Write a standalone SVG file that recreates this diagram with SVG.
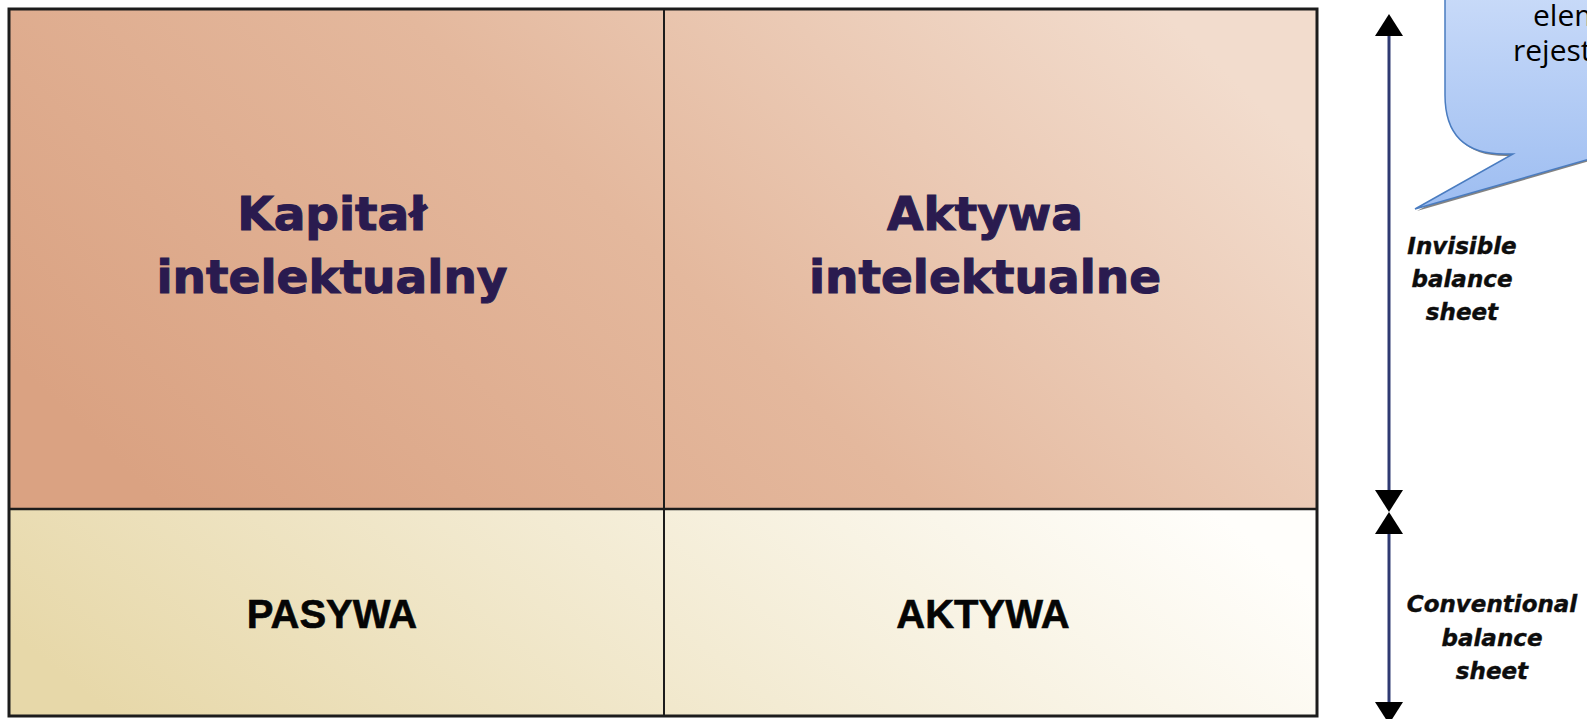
<svg xmlns="http://www.w3.org/2000/svg" width="1587" height="719" viewBox="0 0 1587 719">
  <style>
    .big { font-family: "DejaVu Sans", Verdana, sans-serif; font-weight: bold; font-size: 47px; fill: #2a1b4f; stroke: #2a1b4f; stroke-width: 1.1px; text-anchor: middle; }
    .cap { font-family: "Liberation Sans", Arial, sans-serif; font-weight: bold; font-size: 40px; fill: #050505; stroke: #050505; stroke-width: 0.6px; text-anchor: middle; }
    .side { font-family: "DejaVu Sans", Verdana, sans-serif; font-weight: bold; font-style: italic; font-size: 23px; fill: #0d0d0d; stroke: #0d0d0d; stroke-width: 0.4px; text-anchor: middle; }
    .bub { font-family: "Open Sans", "Liberation Sans", sans-serif; font-size: 30px; fill: #000; }
    .grid { stroke: #1c1c1c; fill: none; }
    .axis { stroke: #2f3a72; stroke-width: 3; fill: none; }
  </style>
  <defs>
    <linearGradient id="gTop" x1="0" y1="0.7" x2="1" y2="0.3">
      <stop offset="0" stop-color="#daa282"/>
      <stop offset="0.5" stop-color="#e4b89d"/>
      <stop offset="1" stop-color="#f2dccd"/>
    </linearGradient>
    <linearGradient id="gBot" x1="0" y1="0.6" x2="1" y2="0.4">
      <stop offset="0" stop-color="#e7d8a9"/>
      <stop offset="0.5" stop-color="#f3ebd3"/>
      <stop offset="1" stop-color="#fffefb"/>
    </linearGradient>
    <linearGradient id="gBub" x1="0" y1="0" x2="0" y2="1">
      <stop offset="0" stop-color="#cbdcf9"/>
      <stop offset="1" stop-color="#9dbdf1"/>
    </linearGradient>
    <path id="ah" d="M0,0 L-14,22 L14,22 Z" fill="#000"/>
  </defs>

  <rect width="1587" height="719" fill="#ffffff"/>

  <g id="table">
    <rect id="row-top" x="9" y="9" width="1308" height="500" fill="url(#gTop)"/>
    <rect id="row-bottom" x="9" y="509" width="1308" height="207" fill="url(#gBot)"/>
    <line class="grid" x1="664" y1="9" x2="664" y2="716" stroke-width="2"/>
    <line class="grid" x1="9" y1="509" x2="1317" y2="509" stroke-width="2.5"/>
    <rect class="grid" x="9" y="9" width="1308" height="707" stroke="#0a0a0a" stroke-width="3"/>
  </g>

  <g id="cell-kapital">
    <text class="big" x="332" y="230">Kapitał</text>
    <text class="big" x="332" y="293">intelektualny</text>
  </g>
  <g id="cell-aktywa-int">
    <text class="big" x="985" y="230">Aktywa</text>
    <text class="big" x="985" y="293">intelektualne</text>
  </g>
  <g id="cell-pasywa">
    <text class="cap" x="332" y="628">PASYWA</text>
  </g>
  <g id="cell-aktywa">
    <text class="cap" x="983" y="628">AKTYWA</text>
  </g>

  <g id="connectors">
    <line class="axis" x1="1389" y1="34" x2="1389" y2="492"/>
    <line class="axis" x1="1389" y1="532" x2="1389" y2="704"/>
    <use href="#ah" transform="translate(1389,14)"/>
    <use href="#ah" transform="translate(1389,512) scale(1,-1)"/>
    <use href="#ah" transform="translate(1389,512)"/>
    <use href="#ah" transform="translate(1389,724) scale(1,-1)"/>
  </g>

  <g id="label-invisible">
    <text class="side" x="1462" y="254">Invisible</text>
    <text class="side" x="1462" y="287">balance</text>
    <text class="side" x="1462" y="320">sheet</text>
  </g>
  <g id="label-conventional">
    <text class="side" x="1492" y="612">Conventional</text>
    <text class="side" x="1492" y="646">balance</text>
    <text class="side" x="1492" y="679">sheet</text>
  </g>

  <g id="callout">
    <path d="M1446.5,-20 L1446.5,95 C1446.5,136 1466,156 1506,156 L1514.5,156 L1417,211 L1600,158 L1600,-20 Z" fill="#5a5a5a" opacity="0.75"/>
    <path d="M1445,-20 L1445,95 C1445,134 1464,154 1504,154 L1513,154 L1415,209 L1600,156 L1600,-20 Z" fill="url(#gBub)" stroke="#4a7cc0" stroke-width="1.5"/>
    <text class="bub"><tspan x="1533" y="26">elem</tspan><tspan x="1513" y="61">rejest</tspan></text>
  </g>
</svg>
